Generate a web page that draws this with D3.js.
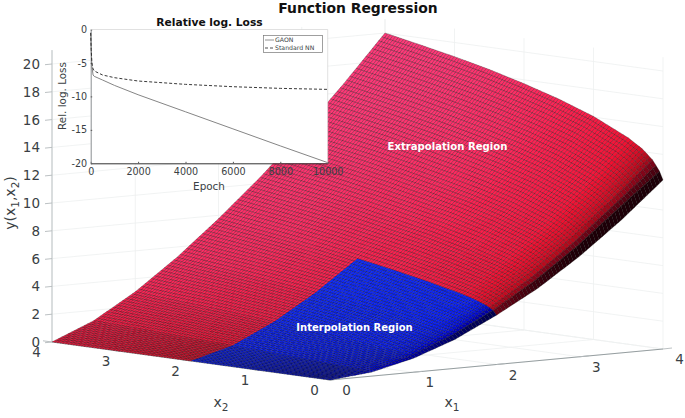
<!DOCTYPE html>
<html><head><meta charset="utf-8">
<script src="https://cdn.jsdelivr.net/npm/d3@7"></script>
<style>
html,body{margin:0;padding:0;background:#fff}
svg{display:block;font-family:"DejaVu Sans",sans-serif}
</style></head><body>
<svg id="c" width="685" height="418"></svg>
<script>
// ---- surface values ----
const x1Levels = [0, 0.5, 1, 1.5, 2, 2.5, 3, 3.5, 4];
const x2Levels = [0, 0.05, 0.15, 0.3, 0.5, 1, 1.5, 2, 2.5, 3, 3.5, 4];
const yAtX1_0   = [0,0,0,0,0,0,0,0,0,0,0,0];
const yAtX1_0_5 = [0.29,0.34,0.38,0.43,0.47,0.60,0.72,0.83,0.93,1.05,1.15,1.25];
const yAtX1_1   = [1.00,1.15,1.26,1.38,1.50,1.78,2.05,2.27,2.48,2.68,2.85,3.05];
const yAtX1_1_5 = [2.08,2.33,2.52,2.73,2.93,3.38,3.77,4.10,4.40,4.70,4.97,5.25];
const yAtX1_2   = [3.55,3.87,4.15,4.44,4.73,5.30,5.80,6.25,6.68,7.05,7.40,7.75];
const yAtX1_2_5 = [5.22,5.71,6.09,6.47,6.84,7.58,8.20,8.70,9.20,9.65,10.05,10.45];
const yAtX1_3   = [7.24,7.87,8.33,8.79,9.26,10.14,10.84,11.43,11.98,12.50,12.95,13.40];
const yAtX1_3_5 = [9.56,10.32,10.87,11.42,11.96,12.99,13.78,14.46,15.06,15.61,16.11,16.60];
const yAtX1_4   = [12.16,12.75,13.50,14.20,14.85,16.05,16.96,17.72,18.40,18.98,19.50,20.00];
// ---- inset curves ----
const epochs   = [0,20,50,100,150,500,1000,2000,4000,6000,8000,10000];
const gaonLoss = [-0.5,-3,-5.5,-6.8,-7.0,-7.55,-8.35,-9.75,-12.3,-14.85,-17.4,-19.9];
const nnLoss   = [-0.5,-3,-5,-5.9,-6.2,-6.8,-7.2,-7.7,-8.2,-8.55,-8.8,-8.95];
// ---- tick labels ----
const yTicks3d = [0,2,4,6,8,10,12,14,16,18,20];
const xTicks3d = [0,1,2,3,4];
const insetXTicks = [0,2000,4000,6000,8000,10000];
const insetYTicks = [0,-5,-10,-15,-20];
const interpolationLimit = 2;

const grid = [yAtX1_0,yAtX1_0_5,yAtX1_1,yAtX1_1_5,yAtX1_2,yAtX1_2_5,yAtX1_3,yAtX1_3_5,yAtX1_4];
const svg = d3.select("#c");
const ink = "#3a3f44";

// linear oblique projection, as a set of scales
const ox = 330, oy = 380;
const sxX1 = d3.scaleLinear([0,4],[0,333]), syX1 = d3.scaleLinear([0,4],[0,-31]);
const sxX2 = d3.scaleLinear([0,4],[0,-278]), syX2 = d3.scaleLinear([0,4],[0,-38]);
const syY  = d3.scaleLinear([0,20],[0,-278]);
const P = (a,b,v) => [ox+sxX1(a)+sxX2(b), oy+syX1(a)+syX2(b)+syY(v)];
const line = d3.line();

// ---- walls and floor grid ----
const gridG = svg.append("g").attr("fill","none").attr("stroke","#eef0f0").attr("stroke-width",0.8);
const wallTop = 21;
const segs = [];
yTicks3d.forEach(v=>{ segs.push([P(0,4,v),P(4,4,v)]); segs.push([P(4,4,v),P(4,0,v)]); });
xTicks3d.forEach(t=>{
  segs.push([P(t,4,0),P(t,4,wallTop)]);
  segs.push([P(4,t,0),P(4,t,wallTop)]);
  segs.push([P(t,0,0),P(t,4,0)]);
  segs.push([P(0,t,0),P(4,t,0)]);
});
gridG.selectAll("path").data(segs).join("path").attr("d",d=>line(d));

// axes lines
const axisG = svg.append("g").attr("fill","none").attr("stroke","#b4babc").attr("stroke-width",0.9);
axisG.append("path").attr("d",line([P(0,4,0),P(0,4,wallTop)]));
axisG.append("path").attr("d",line([P(0,0,0),P(4,0,0)])).attr("stroke","#8b9496");
axisG.append("path").attr("d",line([P(0,0,0),P(0,4,0)]));
// ticks
axisG.selectAll("path.ty").data(yTicks3d).join("path").attr("class","ty")
  .attr("d",v=>{const p=P(0,4,v);return line([p,[p[0]-7,p[1]+0.7]]);});
axisG.selectAll("path.t1").data(xTicks3d).join("path").attr("class","t1")
  .attr("d",t=>{const p=P(t,0,0);return line([p,[p[0]+9,p[1]-1]]);});
axisG.selectAll("path.t2").data(xTicks3d).join("path").attr("class","t2")
  .attr("d",t=>{const p=P(0,t,0);return line([p,[p[0]-9,p[1]-1.2]]);});

// ---- surface ----
const shadeK = 0.14, L = [-0.85,0.7,0.4];
function shadeAt(i,j){
  const ia=Math.max(i-1,0), ib=Math.min(i+1,x1Levels.length-1);
  const ja=Math.max(j-1,0), jb=Math.min(j+1,x2Levels.length-1);
  const d1=(grid[ib][j]-grid[ia][j])/(x1Levels[ib]-x1Levels[ia])*shadeK;
  const d2=(grid[i][jb]-grid[i][ja])/(x2Levels[jb]-x2Levels[ja])*shadeK;
  const n=Math.hypot(d1,d2,1);
  return (-d1*L[0]-d2*L[1]+L[2])/n;
}
const redRamp = d3.scaleLinear([0,0.25,0.4,0.6,0.72,0.85],["#1e0008","#7a0418","#b80a1c","#f01030","#ff2050","#ff4a94"]).clamp(true);
const blueRamp = d3.scaleLinear([0,0.25,0.4,0.6,0.72,0.85],["#00001e","#000058","#0000b4","#0a20ff","#0e2aff","#1234ff"]).clamp(true);
const lerp=(a,b,t)=>a+(b-a)*t;
const cells=[];
for(let i=x1Levels.length-2;i>=0;i--){
  for(let j=x2Levels.length-2;j>=0;j--){
    const a0=x1Levels[i],a1=x1Levels[i+1],b0=x2Levels[j],b1=x2Levels[j+1];
    const c00=P(a0,b0,grid[i][j]),c10=P(a1,b0,grid[i+1][j]),c01=P(a0,b1,grid[i][j+1]),c11=P(a1,b1,grid[i+1][j+1]);
    const s00=shadeAt(i,j),s10=shadeAt(i+1,j),s01=shadeAt(i,j+1),s11=shadeAt(i+1,j+1);
    const nu=Math.max(1,Math.round((a1-a0)/0.04)), nv=Math.max(1,Math.round((b1-b0)/0.04));
    const ramp=(a1<=interpolationLimit&&b1<=interpolationLimit)?blueRamp:redRamp;
    const pt=(u,v)=>[0,1].map(k=>lerp(lerp(c00[k],c10[k],u),lerp(c01[k],c11[k],u),v));
    for(let u=nu-1;u>=0;u--)for(let v=nv-1;v>=0;v--){
      const U=u/nu,U2=(u+1)/nu,V=v/nv,V2=(v+1)/nv,um=(U+U2)/2,vm=(V+V2)/2;
      cells.push({pts:[pt(U,V),pt(U2,V),pt(U2,V2),pt(U,V2)],
        fill:ramp(lerp(lerp(s00,s10,um),lerp(s01,s11,um),vm))});
    }
  }
}
svg.append("g").attr("stroke","#000").attr("stroke-width",0.6).attr("stroke-opacity",0.42)
  .selectAll("path").data(cells).join("path")
  .attr("d",d=>line(d.pts)+"Z").attr("fill",d=>d.fill);

// ---- 3D tick labels ----
const lab = svg.append("g").attr("fill",ink).attr("font-size",13.5).attr("text-anchor","middle");
lab.selectAll("text.ly").data(yTicks3d).join("text").attr("class","ly").attr("text-anchor","end")
  .attr("x",40).attr("y",v=>P(0,4,v)[1]+5).text(v=>v);
lab.selectAll("text.l1").data(xTicks3d).join("text").attr("class","l1")
  .attr("x",t=>P(t,0,0)[0]+16.5).attr("y",t=>P(t,0,0)[1]+15).text(t=>t);
lab.selectAll("text.l2").data(xTicks3d).join("text").attr("class","l2")
  .attr("x",t=>P(0,t,0)[0]-15.5).attr("y",t=>P(0,t,0)[1]+14.5).text(t=>t);
// axis names
const subLabel=(sel,main,sub)=>{sel.append("tspan").text(main);sel.append("tspan").text(sub).attr("font-size",10.5).attr("dy",3.5);};
subLabel(svg.append("text").attr("x",221).attr("y",407).attr("fill",ink).attr("font-size",14).attr("text-anchor","middle"),"x","2");
subLabel(svg.append("text").attr("x",452).attr("y",407).attr("fill",ink).attr("font-size",14).attr("text-anchor","middle"),"x","1");
const yl=svg.append("text").attr("transform","translate(15,203) rotate(-90)").attr("fill",ink).attr("font-size",14).attr("text-anchor","middle");
yl.append("tspan").text("y(x");
yl.append("tspan").text("1").attr("font-size",10.5).attr("dy",3.5);
yl.append("tspan").text(",x").attr("dy",-3.5);
yl.append("tspan").text("2").attr("font-size",10.5).attr("dy",3.5);
yl.append("tspan").text(")").attr("dy",-3.5);

// region labels + title
svg.append("text").attr("x",358).attr("y",13).attr("text-anchor","middle").attr("font-weight","bold").attr("font-size",13.9).attr("fill","#111").text("Function Regression");
svg.append("text").attr("x",447.5).attr("y",150).attr("text-anchor","middle").attr("font-weight","bold").attr("font-size",10.1).attr("fill","#fff").text("Extrapolation Region");
svg.append("text").attr("x",354.5).attr("y",331).attr("text-anchor","middle").attr("font-weight","bold").attr("font-size",10).attr("fill","#fff").text("Interpolation Region");

// ---- inset ----
const ix=d3.scaleLinear([0,10000],[90.7,327.7]);
const iy=d3.scaleLinear([0,-20],[29.5,163.3]);
const inset=svg.append("g");
inset.append("rect").attr("x",ix(0)).attr("y",iy(0)).attr("width",ix(10000)-ix(0)).attr("height",iy(-20)-iy(0)).attr("fill","#fff");
const ax=inset.append("g").attr("transform",`translate(0,${iy(-20)})`)
  .call(d3.axisBottom(ix).tickValues(insetXTicks).tickSizeInner(-1.5).tickSizeOuter(0).tickPadding(5).tickFormat(d3.format("d")));
const ay=inset.append("g").attr("transform",`translate(${ix(0)},0)`)
  .call(d3.axisLeft(iy).tickValues(insetYTicks).tickSizeInner(-1.5).tickSizeOuter(0).tickPadding(3.5).tickFormat(d=>String(d)));
[ax,ay].forEach(g=>{g.selectAll("text").attr("font-size",9.6).attr("font-family","DejaVu Sans").attr("fill",ink);g.selectAll("line").attr("stroke","#555");});
ax.select(".domain").attr("stroke","#333");ay.select(".domain").attr("stroke","#8a8f92");
inset.append("path").attr("fill","none").attr("stroke","#ccc").attr("stroke-width",0.6)
  .attr("d",line([[ix(0),iy(0)],[ix(10000),iy(0)],[ix(10000),iy(-20)]]));
const lineI=d3.line().x((d,i)=>ix(epochs[i])).y(d=>iy(d));
inset.append("path").datum(gaonLoss).attr("fill","none").attr("stroke","#777").attr("stroke-width",0.9).attr("d",lineI);
inset.append("path").datum(nnLoss).attr("fill","none").attr("stroke","#222").attr("stroke-width",0.9).attr("stroke-dasharray","3 2").attr("d",lineI);
inset.append("text").attr("x",209.5).attr("y",26).attr("text-anchor","middle").attr("font-weight","bold").attr("font-size",10.7).attr("fill","#111").text("Relative log. Loss");
inset.append("text").attr("x",209).attr("y",190).attr("text-anchor","middle").attr("font-size",10.4).attr("fill",ink).text("Epoch");
inset.append("text").attr("transform","translate(66,96) rotate(-90)").attr("text-anchor","middle").attr("font-size",10.4).attr("fill",ink).text("Rel. log. Loss");
// legend
const lg=inset.append("g");
lg.append("rect").attr("x",263.5).attr("y",35.5).attr("width",59).attr("height",17).attr("fill","#fff").attr("stroke","#777").attr("stroke-width",0.7);
lg.append("line").attr("x1",265).attr("x2",274).attr("y1",40).attr("y2",40).attr("stroke","#777").attr("stroke-width",0.8);
lg.append("line").attr("x1",265).attr("x2",274).attr("y1",48).attr("y2",48).attr("stroke","#222").attr("stroke-width",0.8).attr("stroke-dasharray","3 2");
lg.append("text").attr("x",275).attr("y",42.3).attr("font-size",6.2).attr("fill",ink).text("GAON");
lg.append("text").attr("x",275).attr("y",50.3).attr("font-size",6.2).attr("fill",ink).text("Standard NN");
</script>
</body></html>
